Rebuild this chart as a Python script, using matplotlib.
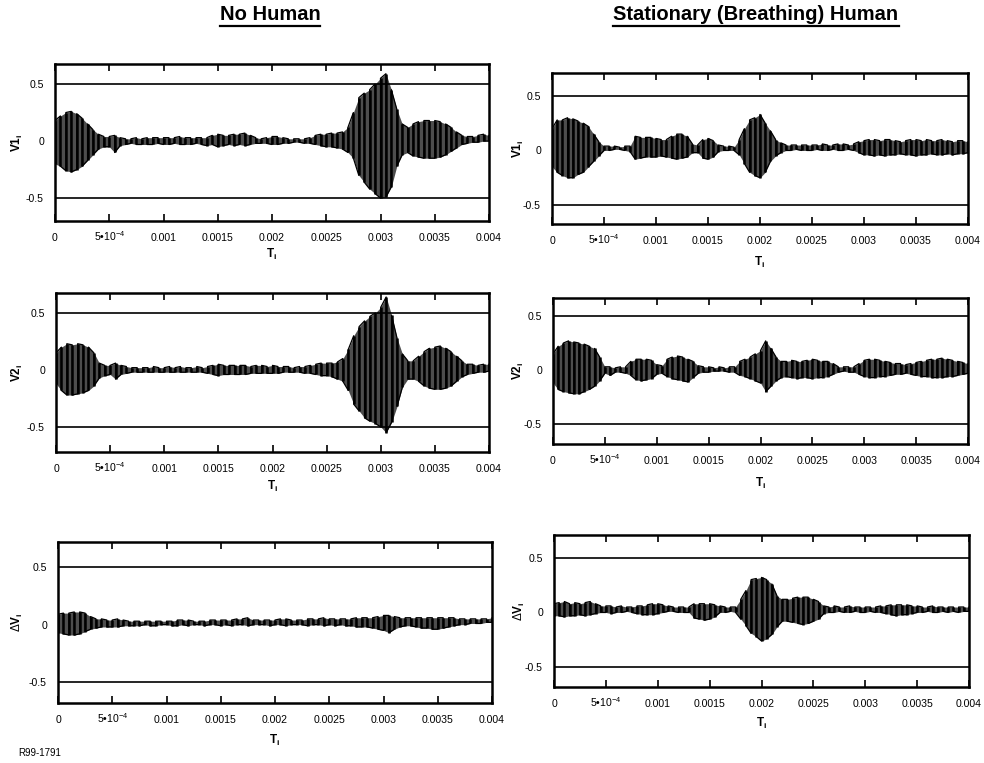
import numpy as np
import matplotlib
matplotlib.use("Agg")
import matplotlib.pyplot as plt
from matplotlib.lines import Line2D

plt.rcParams['font.family'] = ['Liberation Sans', 'DejaVu Sans']
plt.rcParams['mathtext.fontset'] = 'custom'
plt.rcParams['mathtext.rm'] = 'Liberation Sans'
plt.rcParams['mathtext.it'] = 'Liberation Sans:italic'
plt.rcParams['mathtext.bf'] = 'Liberation Sans:bold'

# ---------------- data ----------------
time_s = np.linspace(0.0, 0.004, 81)   # sample grid, 5e-5 s step

x_ticks = [0, 0.0005, 0.001, 0.0015, 0.002, 0.0025, 0.003, 0.0035, 0.004]
x_tick_labels = ['0', '5\u202210$^{-4}$', '0.001', '0.0015', '0.002', '0.0025',
                 '0.003', '0.0035', '0.004']
y_ticks = [-0.5, 0, 0.5]
y_tick_labels = ['-0.5', '0', '0.5']

# No Human, V1 (upper / lower envelope of waveform)
v1_none_hi = [0.18, 0.22, 0.25, 0.26, 0.24, 0.20, 0.15, 0.10, 0.06, 0.04,
              0.04, 0.05, 0.03, 0.02, 0.02, 0.03, 0.02, 0.03, 0.03, 0.03,
              0.03, 0.03, 0.03, 0.04, 0.03, 0.03, 0.03, 0.03, 0.03, 0.05,
              0.06, 0.05, 0.05, 0.06, 0.06, 0.07, 0.05, 0.03, 0.02, 0.03,
              0.04, 0.04, 0.03, 0.02, 0.02, 0.02, 0.02, 0.03, 0.05, 0.06,
              0.06, 0.07, 0.07, 0.08, 0.12, 0.25, 0.38, 0.42, 0.45, 0.50,
              0.55, 0.59, 0.45, 0.28, 0.15, 0.12, 0.15, 0.17, 0.18, 0.18,
              0.18, 0.17, 0.15, 0.12, 0.08, 0.05, 0.04, 0.04, 0.05, 0.06, 0.05]
v1_none_lo = [-0.20, -0.22, -0.26, -0.27, -0.25, -0.22, -0.17, -0.12, -0.07, -0.05,
              -0.05, -0.10, -0.04, -0.03, -0.02, -0.03, -0.03, -0.03, -0.03, -0.02,
              -0.03, -0.03, -0.02, -0.03, -0.03, -0.03, -0.02, -0.03, -0.04, -0.03,
              -0.05, -0.04, -0.03, -0.04, -0.03, -0.04, -0.03, -0.02, -0.02, -0.02,
              -0.03, -0.03, -0.02, -0.02, -0.01, -0.01, -0.02, -0.02, -0.03, -0.04,
              -0.05, -0.05, -0.06, -0.07, -0.10, -0.15, -0.30, -0.36, -0.42, -0.46,
              -0.50, -0.49, -0.40, -0.22, -0.12, -0.10, -0.13, -0.14, -0.15, -0.15,
              -0.15, -0.14, -0.12, -0.09, -0.06, -0.03, -0.02, -0.01, -0.01, 0.00, 0.00]

# No Human, V2
v2_none_hi = [0.15, 0.20, 0.23, 0.22, 0.23, 0.22, 0.20, 0.15, 0.06, 0.04,
              0.04, 0.06, 0.04, 0.03, 0.02, 0.02, 0.02, 0.02, 0.03, 0.02,
              0.02, 0.03, 0.02, 0.03, 0.02, 0.02, 0.03, 0.02, 0.03, 0.04,
              0.05, 0.04, 0.04, 0.04, 0.04, 0.04, 0.03, 0.04, 0.04, 0.03,
              0.04, 0.03, 0.03, 0.03, 0.02, 0.03, 0.03, 0.04, 0.05, 0.06,
              0.06, 0.06, 0.07, 0.10, 0.18, 0.30, 0.38, 0.43, 0.47, 0.50,
              0.55, 0.64, 0.48, 0.28, 0.14, 0.08, 0.08, 0.12, 0.16, 0.19,
              0.20, 0.21, 0.19, 0.16, 0.12, 0.08, 0.05, 0.05, 0.04, 0.05, 0.05]
v2_none_lo = [-0.12, -0.18, -0.22, -0.22, -0.21, -0.20, -0.18, -0.14, -0.07, -0.05,
              -0.04, -0.08, -0.04, -0.03, -0.02, -0.02, -0.02, -0.02, -0.02, -0.02,
              -0.02, -0.02, -0.02, -0.02, -0.02, -0.02, -0.02, -0.02, -0.03, -0.04,
              -0.05, -0.04, -0.04, -0.04, -0.04, -0.04, -0.03, -0.03, -0.03, -0.03,
              -0.03, -0.03, -0.02, -0.02, -0.02, -0.02, -0.03, -0.03, -0.04, -0.05,
              -0.05, -0.06, -0.08, -0.10, -0.18, -0.30, -0.36, -0.42, -0.45, -0.47,
              -0.50, -0.55, -0.46, -0.32, -0.15, -0.08, -0.08, -0.10, -0.14, -0.16,
              -0.17, -0.17, -0.16, -0.14, -0.10, -0.06, -0.04, -0.03, -0.02, -0.02, -0.01]

# No Human, delta V
dv_none_hi = [0.09, 0.10, 0.10, 0.11, 0.11, 0.10, 0.07, 0.05, 0.05, 0.04,
              0.04, 0.05, 0.04, 0.03, 0.03, 0.03, 0.03, 0.03, 0.03, 0.03,
              0.03, 0.03, 0.04, 0.04, 0.04, 0.03, 0.03, 0.03, 0.04, 0.04,
              0.04, 0.04, 0.04, 0.05, 0.05, 0.06, 0.04, 0.04, 0.04, 0.04,
              0.04, 0.05, 0.05, 0.04, 0.04, 0.04, 0.05, 0.05, 0.05, 0.06,
              0.05, 0.05, 0.05, 0.05, 0.05, 0.06, 0.06, 0.06, 0.06, 0.07,
              0.08, 0.08, 0.07, 0.06, 0.06, 0.06, 0.06, 0.06, 0.06, 0.06,
              0.06, 0.06, 0.06, 0.06, 0.05, 0.05, 0.05, 0.05, 0.05, 0.05, 0.06]
dv_none_lo = [-0.07, -0.08, -0.09, -0.09, -0.08, -0.06, -0.04, -0.03, -0.02, -0.02,
              -0.02, -0.02, -0.01, -0.01, -0.01, -0.01, 0.00, -0.01, -0.01, 0.00,
              0.00, -0.01, -0.01, 0.00, -0.01, 0.00, 0.00, -0.01, 0.00, 0.00,
              -0.01, 0.00, -0.01, 0.00, 0.00, -0.01, 0.00, 0.00, 0.00, -0.01,
              0.00, 0.00, -0.01, 0.00, 0.00, 0.00, -0.01, 0.00, 0.00, -0.01,
              0.00, -0.01, 0.00, -0.01, -0.01, -0.02, -0.02, -0.02, -0.03, -0.04,
              -0.05, -0.07, -0.04, -0.02, -0.01, -0.01, -0.02, -0.03, -0.03, -0.04,
              -0.04, -0.03, -0.02, -0.01, 0.00, 0.00, 0.01, 0.01, 0.01, 0.02, 0.02]

# Stationary (breathing) human, V1
v1_human_hi = [0.20, 0.28, 0.28, 0.30, 0.29, 0.27, 0.25, 0.22, 0.15, 0.08,
               0.04, 0.04, 0.04, 0.03, 0.04, 0.04, 0.13, 0.12, 0.12, 0.12,
               0.11, 0.10, 0.10, 0.13, 0.15, 0.15, 0.13, 0.06, 0.05, 0.10,
               0.11, 0.09, 0.05, 0.04, 0.04, 0.03, 0.10, 0.20, 0.28, 0.30,
               0.33, 0.25, 0.18, 0.10, 0.07, 0.05, 0.05, 0.05, 0.05, 0.05,
               0.05, 0.05, 0.06, 0.05, 0.05, 0.06, 0.06, 0.05, 0.06, 0.08,
               0.09, 0.10, 0.10, 0.09, 0.10, 0.10, 0.09, 0.08, 0.09, 0.10,
               0.10, 0.09, 0.10, 0.09, 0.09, 0.10, 0.09, 0.08, 0.09, 0.09, 0.08]
v1_human_lo = [-0.15, -0.20, -0.23, -0.25, -0.25, -0.22, -0.20, -0.15, -0.10, -0.05,
               0.00, 0.00, 0.01, 0.01, 0.00, -0.01, -0.08, -0.07, -0.06, -0.06,
               -0.06, -0.05, -0.06, -0.07, -0.08, -0.07, -0.06, -0.02, -0.02, -0.07,
               -0.08, -0.06, -0.01, 0.00, 0.00, 0.00, -0.04, -0.12, -0.20, -0.23,
               -0.25, -0.20, -0.10, -0.05, -0.02, 0.00, 0.00, 0.01, 0.00, 0.00,
               0.00, 0.01, 0.00, 0.00, 0.01, 0.00, 0.00, 0.01, 0.00, -0.02,
               -0.04, -0.04, -0.05, -0.04, -0.05, -0.04, -0.04, -0.03, -0.04, -0.04,
               -0.05, -0.04, -0.04, -0.03, -0.04, -0.04, -0.03, -0.04, -0.03, -0.03, -0.02]

# Stationary (breathing) human, V2
v2_human_hi = [0.15, 0.22, 0.25, 0.27, 0.26, 0.25, 0.24, 0.22, 0.20, 0.12,
               0.03, 0.03, 0.02, 0.03, 0.03, 0.08, 0.10, 0.10, 0.10, 0.09,
               0.05, 0.04, 0.10, 0.12, 0.13, 0.12, 0.10, 0.08, 0.04, 0.03,
               0.03, 0.02, 0.03, 0.02, 0.03, 0.03, 0.08, 0.10, 0.12, 0.15,
               0.18, 0.27, 0.20, 0.12, 0.08, 0.08, 0.09, 0.08, 0.08, 0.09,
               0.10, 0.09, 0.08, 0.08, 0.06, 0.03, 0.03, 0.03, 0.03, 0.06,
               0.09, 0.10, 0.10, 0.09, 0.08, 0.07, 0.06, 0.06, 0.05, 0.06,
               0.07, 0.08, 0.09, 0.10, 0.10, 0.11, 0.10, 0.09, 0.08, 0.07, 0.06]
v2_human_lo = [-0.12, -0.18, -0.20, -0.21, -0.22, -0.22, -0.20, -0.18, -0.15, -0.10,
               -0.03, -0.05, -0.02, -0.02, -0.03, -0.05, -0.09, -0.10, -0.09, -0.08,
               -0.04, -0.03, -0.06, -0.08, -0.09, -0.10, -0.11, -0.07, -0.03, -0.02,
               -0.02, -0.01, -0.01, -0.01, -0.02, -0.02, -0.05, -0.06, -0.08, -0.10,
               -0.12, -0.20, -0.15, -0.10, -0.07, -0.06, -0.07, -0.08, -0.07, -0.07,
               -0.08, -0.07, -0.07, -0.06, -0.04, -0.02, -0.01, -0.02, -0.02, -0.04,
               -0.06, -0.07, -0.07, -0.06, -0.06, -0.05, -0.04, -0.04, -0.03, -0.04,
               -0.05, -0.06, -0.06, -0.07, -0.07, -0.07, -0.06, -0.06, -0.05, -0.04, -0.03]

# Stationary (breathing) human, delta V
dv_human_hi = [0.08, 0.09, 0.10, 0.08, 0.09, 0.08, 0.09, 0.10, 0.08, 0.06,
               0.06, 0.06, 0.05, 0.06, 0.05, 0.05, 0.06, 0.06, 0.07, 0.08,
               0.08, 0.07, 0.06, 0.05, 0.05, 0.05, 0.05, 0.08, 0.08, 0.08,
               0.08, 0.07, 0.06, 0.05, 0.05, 0.05, 0.12, 0.20, 0.30, 0.31,
               0.32, 0.30, 0.26, 0.15, 0.12, 0.12, 0.13, 0.14, 0.14, 0.14,
               0.12, 0.10, 0.06, 0.05, 0.06, 0.05, 0.05, 0.06, 0.05, 0.05,
               0.05, 0.05, 0.05, 0.06, 0.06, 0.07, 0.07, 0.07, 0.07, 0.06,
               0.06, 0.05, 0.05, 0.06, 0.05, 0.05, 0.05, 0.05, 0.05, 0.05, 0.05]
dv_human_lo = [-0.03, -0.03, -0.04, -0.03, -0.03, -0.02, -0.03, -0.02, -0.01, 0.00,
               0.00, -0.01, 0.00, 0.00, 0.01, 0.00, -0.01, -0.02, -0.02, -0.02,
               -0.01, 0.00, 0.01, 0.01, 0.00, 0.00, 0.00, -0.05, -0.06, -0.07,
               -0.06, -0.04, 0.00, 0.00, 0.01, 0.00, -0.06, -0.12, -0.19, -0.22,
               -0.26, -0.24, -0.20, -0.13, -0.08, -0.08, -0.09, -0.10, -0.11, -0.10,
               -0.08, -0.06, -0.01, 0.00, 0.00, 0.01, 0.00, 0.00, 0.01, 0.00,
               0.00, 0.01, 0.00, 0.00, -0.01, -0.02, -0.03, -0.02, -0.02, -0.01,
               0.00, 0.00, 0.01, 0.00, 0.00, 0.01, 0.00, 0.01, 0.00, 0.01, 0.01]

column_titles = ['No Human', 'Stationary (Breathing) Human']
y_labels = [r'$\mathbf{V1_i}$', r'$\mathbf{V2_i}$', r'$\Delta\mathbf{V_i}$']
x_label = r'$\mathbf{T_i}$'
footnote = 'R99-1791'

# ---------------- layout (pixels) ----------------
W, H = 984, 763
fig = plt.figure(figsize=(W / 100, H / 100), dpi=100)
fig.patch.set_facecolor('white')

panels = [
    # (left, right, top, bottom, ylim, hi, lo, ylabel index, ylabel x, xlabel y)
    (55, 489, 64, 221, (-0.70, 0.675), v1_none_hi, v1_none_lo, 0, 17, 254),
    (552, 968, 73, 224, (-0.674, 0.71), v1_human_hi, v1_human_lo, 0, 518, 262),
    (56, 489, 293, 452, (-0.72, 0.675), v2_none_hi, v2_none_lo, 1, 17, 486),
    (553, 968, 298, 444, (-0.685, 0.667), v2_human_hi, v2_human_lo, 1, 518, 483),
    (58, 492, 542, 703, (-0.68, 0.717), dv_none_hi, dv_none_lo, 2, 17, 740),
    (554, 969, 535, 687, (-0.68, 0.707), dv_human_hi, dv_human_lo, 2, 519, 723),
]

for (l, r, t, b, ylim, hi, lo, yli, ylx, xly) in panels:
    ax = fig.add_axes([l / W, 1 - b / H, (r - l) / W, (b - t) / H])
    hi = np.asarray(hi)
    lo = np.asarray(lo)
    ax.fill_between(time_s, lo, hi, color='0.3', lw=0)
    ax.vlines(time_s, lo, hi, color='black', lw=1.8)
    xs = np.repeat(time_s, 2)
    ys = np.empty(2 * len(time_s))
    even = (np.arange(len(time_s)) % 2) == 0
    ys[0::2] = np.where(even, lo, hi)
    ys[1::2] = np.where(even, hi, lo)
    ax.plot(xs, ys, color='black', lw=0.9)
    ax.axhline(0.5, color='black', lw=1.2)
    ax.axhline(-0.5, color='black', lw=1.2)
    ax.set_xlim(0, 0.004)
    ax.set_ylim(*ylim)
    ax.set_xticks(x_ticks)
    ax.set_xticklabels(x_tick_labels)
    ax.set_yticks(y_ticks)
    ax.set_yticklabels(y_tick_labels)
    ax.tick_params(axis='x', direction='in', top=True, bottom=True, length=5,
                   width=1.2, labelsize=7.6, pad=14.5)
    for lab in ax.get_xticklabels():
        lab.set_verticalalignment('baseline')
    ax.tick_params(axis='y', length=0, labelsize=7.6, pad=8)
    for sp in ax.spines.values():
        sp.set_linewidth(1.8)
    fig.text(ylx / W, 1 - (t + b) / 2 / H, y_labels[yli], rotation=90,
             ha='center', va='center', fontsize=8.5)
    fig.text((l + r) / 2 / W, 1 - xly / H, x_label, ha='center', va='center',
             fontsize=8.5)

# column titles with underline
renderer = fig.canvas.get_renderer()
for cx, title in zip([270, 756], column_titles):
    txt = fig.text(cx / W, 1 - 14 / H, title, ha='center', va='center',
                   fontsize=14.5, fontweight='bold')
    bb = txt.get_window_extent(renderer=renderer)
    yline = bb.y0 - 2.5
    fig.add_artist(Line2D([bb.x0 / W, bb.x1 / W], [yline / H, yline / H],
                          transform=fig.transFigure, color='black', lw=1.6))

fig.text(18 / W, 1 - 753 / H, footnote, ha='left', va='center', fontsize=7)

fig.savefig('out.png', dpi=100)
